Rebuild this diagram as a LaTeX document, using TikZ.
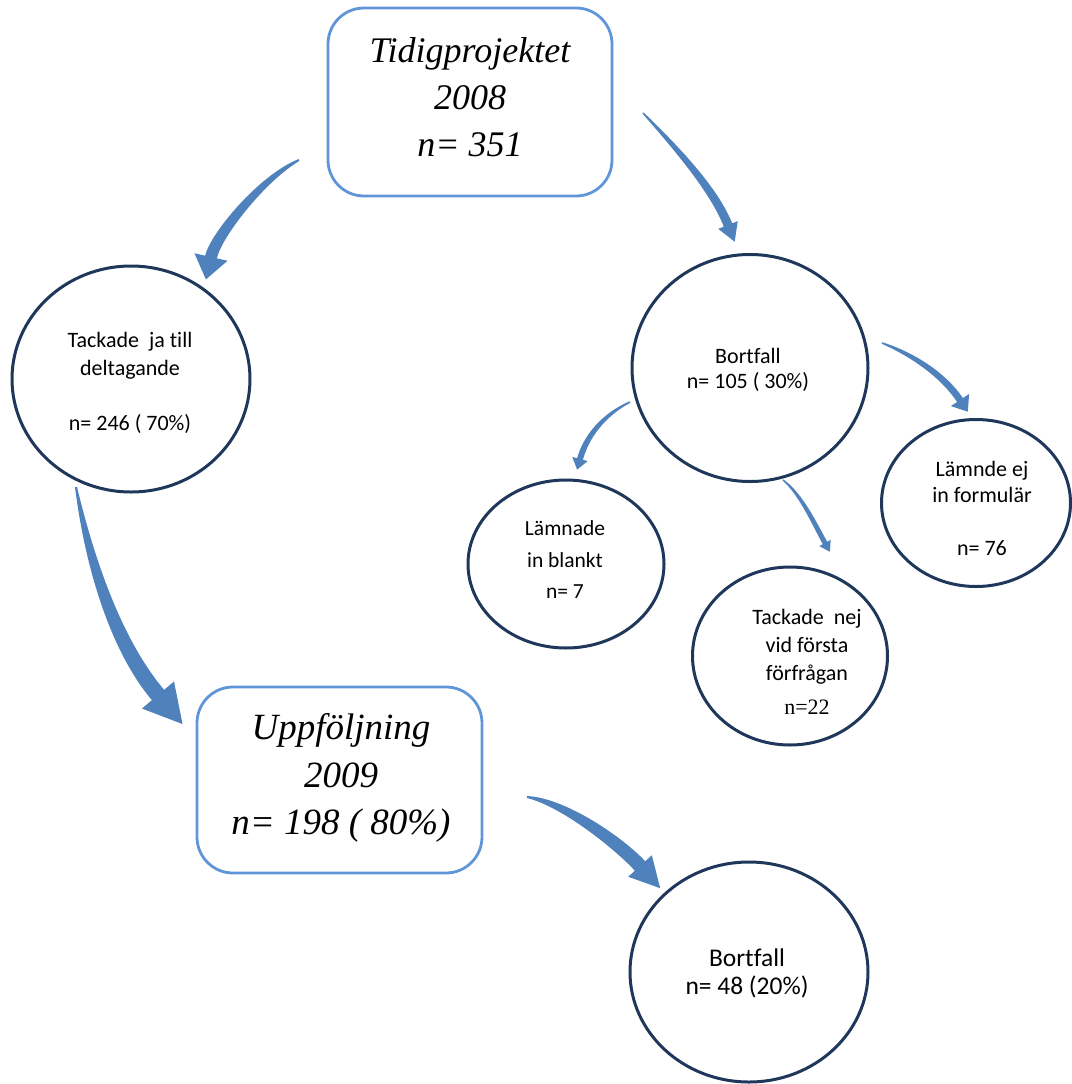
\documentclass[tikz,border=0pt]{standalone}
\usepackage{fontspec}
\usetikzlibrary{calc,shapes.geometric}
\newfontfamily\carl[Ligatures=NoCommon,RawFeature={-liga;-clig;-calt}]{Carlito}
\newfontfamily\tnr{Liberation Serif}
\definecolor{arrowblue}{HTML}{4F81BD}
\definecolor{boxblue}{HTML}{6095D8}
\definecolor{ringnavy}{HTML}{1F375A}
% #1 start #2 c1 #3 c2 #4 head-base mid #5 shaft half width #6 head half width #7 head length #8 tail half width #9 c1 half width
\newcommand\curvarrow[9]{%
  \fill[arrowblue] ($(#1)!#8!-90:(#2)$) .. controls ($(#2)!#9!-90:(#3)$) and ($(#3)!#5!-90:(#4)$) .. ($(#4)!#5!90:(#3)$)
    -- ($(#4)!#6!90:(#3)$) -- ($(#4)!-#7!(#3)$) -- ($(#4)!#6!-90:(#3)$)
    -- ($(#4)!#5!-90:(#3)$) .. controls ($(#3)!#5!90:(#4)$) and ($(#2)!#9!90:(#3)$) .. ($(#1)!#8!90:(#2)$) -- cycle;}
\tikzset{
  ring/.style={draw=ringnavy, line width=3pt, ellipse, inner sep=0pt},
  rbox/.style={draw=boxblue, line width=2.8pt, rounded corners=36pt, inner sep=0pt},
  sans/.style={align=center, font=\carl\fontsize{22}{28}\selectfont, text=black},
  serifit/.style={align=center, font=\tnr\itshape\fontsize{36}{47}\selectfont, text=black},
}
\begin{document}
\begin{tikzpicture}[x=1pt,y=-1pt]
\useasboundingbox (0,0) rectangle (1071,1084);
% boxes
\node[rbox, minimum width=284pt, minimum height=188pt] (top) at (470,102) {};
\node[serifit] (toptxt) at (470,97) {Tidigprojektet\\2008\\n= 351};
\node[rbox, minimum width=285pt, minimum height=186pt] (upp) at (339.5,780) {};
\node[serifit, font=\tnr\itshape\fontsize{37}{47.5}\selectfont] (upptxt) at (341,778) {Uppföljning\\2009\\n= 198 ( 80\%)};
% circles
\node[ring, minimum width=238pt, minimum height=226pt] (ja) at (131,379) {};
\node[sans] (jatxt) at (130,383) {Tackade~ ja till\\deltagande\\[27pt]n= 246 ( 70\%)};
\node[ring, minimum width=236pt, minimum height=227pt] (bf) at (750,368) {};
\node[sans, font=\carl\fontsize{22}{25}\selectfont] (bftxt) at (748,369.5) {Bortfall\\n= 105 ( 30\%)};
\node[ring, minimum width=189pt, minimum height=167pt] (ej) at (976,503) {};
\node[sans, font=\carl\fontsize{22}{25.5}\selectfont] (ejtxt) at (982,508.5) {Lämnde ej\\in formulär\\[27.5pt]n= 76};
\node[ring, minimum width=196pt, minimum height=168pt] (blank) at (566,564) {};
\node[sans, font=\carl\fontsize{21.5}{31.5}\selectfont] (blanktxt) at (565,560) {Lämnade\\in blankt\\n= 7};
\node[ring, minimum width=195pt, minimum height=178pt] (nej) at (790,656) {};
\node[sans] (nejtxt) at (807,661.5) {Tackade~ nej\\vid första\\förfrågan\\[6pt]{\tnr n=22}};
\node[ring, minimum width=238pt, minimum height=220pt] (bf2) at (749,972) {};
\node[sans, font=\carl\fontsize{25.5}{28}\selectfont] (bf2txt) at (747,973.5) {Bortfall\\n= 48 (20\%)};
% arrow anchor coordinates
\coordinate (a1s) at (299,160); \coordinate (a1a) at (262,178); \coordinate (a1b) at (216,235); \coordinate (a1e) at (211,257);
\coordinate (a2s) at (643,113); \coordinate (a2a) at (688,160); \coordinate (a2b) at (716,195); \coordinate (a2e) at (728,225);
\coordinate (a3s) at (882,343); \coordinate (a3a) at (914,355); \coordinate (a3b) at (944,376); \coordinate (a3e) at (960,400);
\coordinate (a4s) at (630,402); \coordinate (a4a) at (603,415); \coordinate (a4b) at (586,437); \coordinate (a4e) at (580,459);
\coordinate (a5s) at (783,480); \coordinate (a5a) at (801,494); \coordinate (a5b) at (815,525); \coordinate (a5e) at (825,543);
\coordinate (a6s) at (527,797); \coordinate (a6a) at (564,802); \coordinate (a6b) at (620,844); \coordinate (a6e) at (640,866);
\coordinate (a7s) at (76,487); \coordinate (a7a) at (92,575); \coordinate (a7b) at (120,650); \coordinate (a7e) at (158,695);
% arrows
\curvarrow{a1s}{a1a}{a1b}{a1e}{6pt}{17pt}{23pt}{1pt}{4.5pt}
\curvarrow{a2s}{a2a}{a2b}{a2e}{4.5pt}{10.5pt}{18pt}{0.8pt}{3.5pt}
\curvarrow{a3s}{a3a}{a3b}{a3e}{3.5pt}{11pt}{14pt}{0.8pt}{2.8pt}
\curvarrow{a4s}{a4a}{a4b}{a4e}{3pt}{8pt}{11pt}{0.8pt}{2.4pt}
\curvarrow{a5s}{a5a}{a5b}{a5e}{2.5pt}{6.5pt}{10pt}{0.7pt}{2pt}
\curvarrow{a6s}{a6a}{a6b}{a6e}{7pt}{16pt}{30pt}{1pt}{5pt}
\curvarrow{a7s}{a7a}{a7b}{a7e}{8pt}{21pt}{38pt}{1pt}{6pt}
\end{tikzpicture}
\end{document}
